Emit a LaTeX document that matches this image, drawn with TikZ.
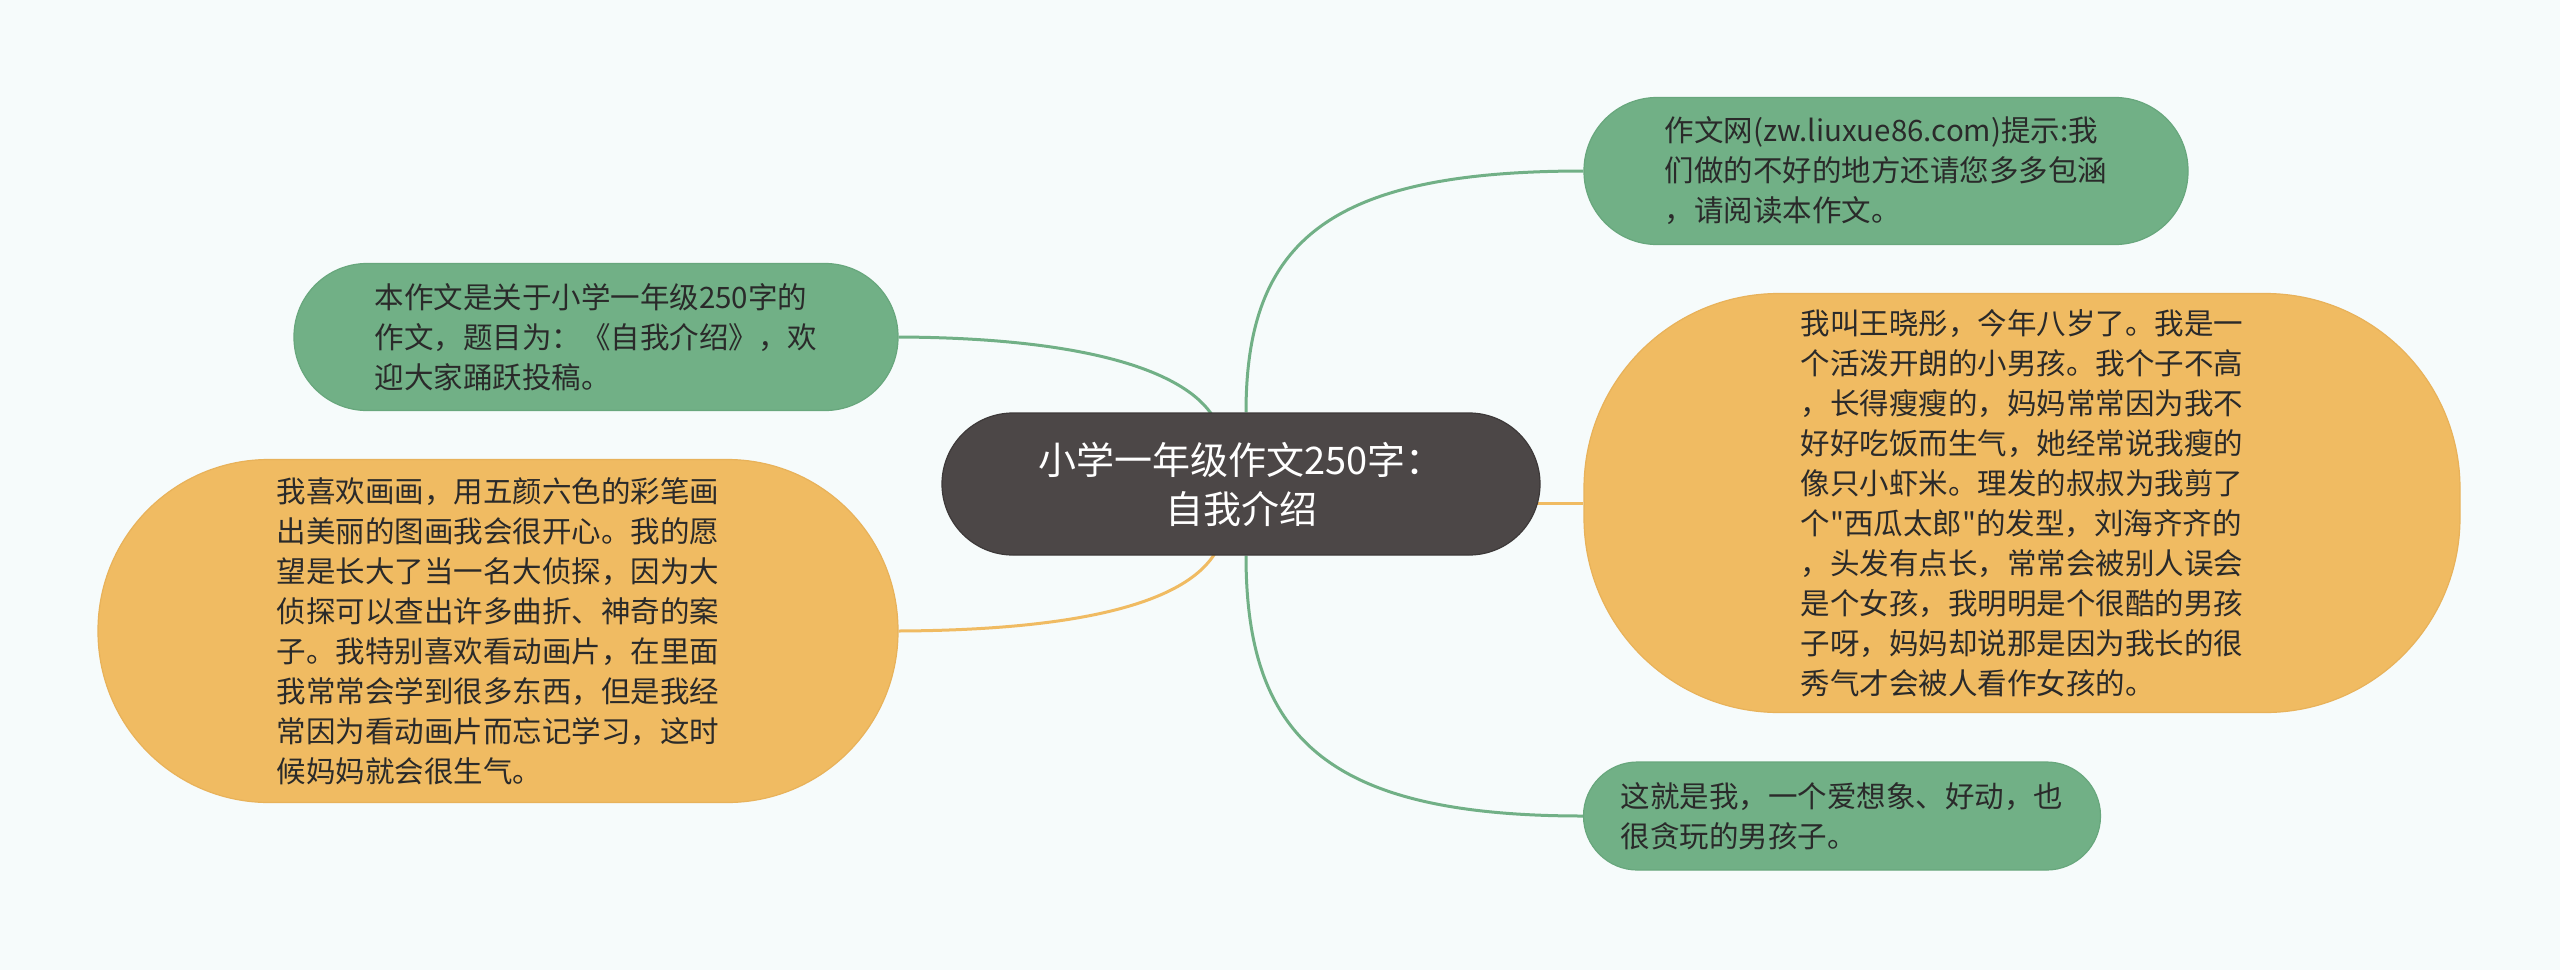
\documentclass[tikz,border=0pt]{standalone}
\usepackage{fontspec}
\newfontfamily\cjkfont{Noto Sans CJK SC}
\usetikzlibrary{backgrounds}
\definecolor{bgc}{HTML}{F6FBFB}
\definecolor{greenfill}{HTML}{71B086}
\definecolor{greenedge}{HTML}{68A77D}
\definecolor{orangefill}{HTML}{F0BB62}
\definecolor{orangeedge}{HTML}{E8B25A}
\definecolor{centerfill}{HTML}{4C4747}
\definecolor{txt}{HTML}{2A2A2A}
\tikzset{
  topic/.style={inner sep=0pt, align=left, text=txt, font=\cjkfont\fontsize{29.5}{40}\selectfont, line width=1.2pt},
  greenbox/.style={topic, fill=greenfill, draw=greenedge},
  orangebox/.style={topic, fill=orangefill, draw=orangeedge},
  rootbox/.style={inner sep=0pt, align=center, text=white, fill=centerfill, draw=centerfill!80!black, line width=1.2pt,
    font=\cjkfont\fontsize{38}{49}\selectfont},
  greenline/.style={draw=greenfill, line width=3pt},
  orangeline/.style={draw=orangefill, line width=3pt}
}
\begin{document}
\begin{tikzpicture}[x=1pt,y=-1pt]
\useasboundingbox (0,0) rectangle (2560,970);
\node[rootbox, minimum width=598pt, minimum height=142pt, rounded corners=71pt] (c) at (1241,484)
  {小学一年级作文250字：\\自我介绍};
\node[greenbox, minimum width=604pt, minimum height=147pt, rounded corners=73pt] (g1) at (1886,171)
  {作文网(zw.liuxue86.com)提示:我\\们做的不好的地方还请您多多包涵\\，请阅读本作文。};
\node[greenbox, minimum width=604pt, minimum height=147pt, rounded corners=73pt] (g2) at (596,337)
  {本作文是关于小学一年级250字的\\作文，题目为：《自我介绍》，欢\\迎大家踊跃投稿。};
\node[orangebox, minimum width=800pt, minimum height=343pt, rounded corners=171pt] (o1) at (498,631)
  {我喜欢画画，用五颜六色的彩笔画\\出美丽的图画我会很开心。我的愿\\望是长大了当一名大侦探，因为大\\侦探可以查出许多曲折、神奇的案\\子。我特别喜欢看动画片，在里面\\我常常会学到很多东西，但是我经\\常因为看动画片而忘记学习，这时\\候妈妈就会很生气。};
\node[orangebox, minimum width=876pt, minimum height=419pt, rounded corners=195pt] (o2) at (2022,503)
  {我叫王晓彤，今年八岁了。我是一\\个活泼开朗的小男孩。我个子不高\\，长得瘦瘦的，妈妈常常因为我不\\好好吃饭而生气，她经常说我瘦的\\像只小虾米。理发的叔叔为我剪了\\个"西瓜太郎"的发型，刘海齐齐的\\，头发有点长，常常会被别人误会\\是个女孩，我明明是个很酷的男孩\\子呀，妈妈却说那是因为我长的很\\秀气才会被人看作女孩的。};
\node[greenbox, minimum width=517pt, minimum height=108pt, rounded corners=54pt] (g3) at (1842,816)
  {这就是我，一个爱想象、好动，也\\很贪玩的男孩子。};
\begin{scope}[on background layer]
  \fill[bgc] (0,0) rectangle (2560,970);
  \draw[greenline] ([xshift=5pt]c.north) .. controls (1246,240) and (1330,171) .. (g1.west);
  \draw[greenline] (g2.east) .. controls (1090,338) and (1185,372) .. ([xshift=-28pt,yshift=-4pt]c.north);
  \draw[orangeline] (o1.east) .. controls (1090,630) and (1188,600) .. ([xshift=-25pt,yshift=4pt]c.south);
  \draw[orangeline] (o2.west) -- ([xshift=-20pt]o2.west -| c.east);
  \draw[greenline] ([xshift=5pt]c.south) .. controls (1246,740) and (1330,816) .. (g3.west);
\end{scope}
\end{tikzpicture}
\end{document}
